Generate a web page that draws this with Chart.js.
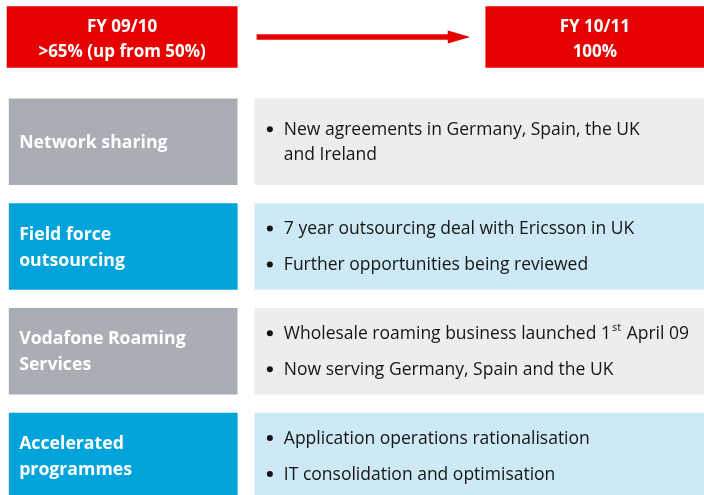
<!DOCTYPE html>
<html>
<head>
<meta charset="utf-8">
<script src="https://cdn.jsdelivr.net/npm/chart.js@4.4.0/dist/chart.umd.min.js"></script>
<style>
  html, body { margin: 0; padding: 0; background: #fff; }
  #wrap { width: 704px; height: 495px; }
</style>
</head>
<body>
<div id="wrap"><canvas id="c"></canvas></div>
<script>
// rows of the diagram (top row = the FY targets)
const rows = ['FY', 'Network sharing', 'Field force outsourcing', 'Vodafone Roaming Services', 'Accelerated programmes'];
const rowLabels = [null, ['Network sharing'], ['Field force', 'outsourcing'], ['Vodafone Roaming', 'Services'], ['Accelerated', 'programmes']];
const rowBullets = [
  null,
  [['New agreements in Germany, Spain, the UK', 'and Ireland']],
  [['7 year outsourcing deal with Ericsson in UK'], ['Further opportunities being reviewed']],
  [['Wholesale roaming business launched 1^st April 09'], ['Now serving Germany, Spain and the UK']],
  [['Application operations rationalisation'], ['IT consolidation and optimisation']]
];
const topTexts = [['FY 09/10', '>65% (up from 50%)'], ['FY 10/11', '100%']];

// spans on a 0-100 horizontal scale
const fromBox = [1.0, 33.7];
const toBox = [69.0, 100];
const arrowSpan = [36.5, 63.6];
const arrowTip = 66.8;
const labelCol = [1.3, 33.7];
const detailCol = [36.2, 100];

const red = '#e60000';
const labelColours = ['#a9aeb4', '#00a4da', '#a9aeb4', '#00a4da'];
const detailColours = ['#ecedef', '#cce9f5', '#ecedef', '#cce9f5'];

const FONT = '"Open Sans", sans-serif';

function onlyTop(v) { return rows.map((r, i) => i === 0 ? v : null); }
function rowsOnly(v) { return rows.map((r, i) => i === 0 ? null : v); }

const textPlugin = {
  id: 'texts',
  afterDatasetsDraw(chart) {
    const ctx = chart.ctx;
    ctx.save();
    // arrow head
    const shaft = chart.getDatasetMeta(2).data[0];
    const tipX = chart.scales.x.getPixelForValue(arrowTip);
    ctx.fillStyle = red;
    ctx.beginPath();
    ctx.moveTo(shaft.x, shaft.y - 6.5);
    ctx.lineTo(tipX, shaft.y);
    ctx.lineTo(shaft.x, shaft.y + 6.5);
    ctx.closePath();
    ctx.fill();

    // top box texts
    ctx.fillStyle = '#fff';
    ctx.textAlign = 'center';
    ctx.textBaseline = 'middle';
    ctx.font = 'bold 17px ' + FONT;
    [0, 1].forEach(d => {
      const el = chart.getDatasetMeta(d).data[0];
      const cx = (el.x + el.base) / 2;
      topTexts[d].forEach((t, k) => ctx.fillText(t, cx, el.y + 3 + (k - 0.5) * 25));
    });

    // row labels and bullets
    for (let i = 1; i < rows.length; i++) {
      const lab = chart.getDatasetMeta(3).data[i];
      const det = chart.getDatasetMeta(4).data[i];
      const cy = lab.y;
      ctx.textAlign = 'left';
      ctx.fillStyle = '#fff';
      ctx.font = 'bold 17.7px ' + FONT;
      const ls = rowLabels[i];
      ls.forEach((t, k) => ctx.fillText(t, Math.min(lab.x, lab.base) + 10, cy + 1 + (k - (ls.length - 1) / 2) * 26));

      const items = rowBullets[i];
      const nLines = items.reduce((s, it) => s + it.length, 0);
      const h = (nLines - items.length) * 25 + (items.length - 1) * 36;
      let y = cy + 1 - h / 2;
      const bx = Math.min(det.x, det.base);
      ctx.fillStyle = '#151515';
      items.forEach(it => {
        ctx.beginPath();
        ctx.arc(bx + 15, y - 1, 3, 0, Math.PI * 2);
        ctx.fill();
        it.forEach((line, k) => {
          let x = bx + 29;
          line.split(/\^(\w+)/).forEach((part, p) => {
            if (p % 2) {
              ctx.font = '11px ' + FONT;
              ctx.fillText(part, x + 1, y - 6);
              x += ctx.measureText(part).width + 2;
            } else {
              ctx.font = '17.5px ' + FONT;
              ctx.fillText(part, x, y);
              x += ctx.measureText(part).width;
            }
          });
          y += (k < it.length - 1) ? 25 : 36;
        });
      });
    }
    ctx.restore();
  }
};

new Chart(document.getElementById('c'), {
  type: 'bar',
  data: {
    labels: rows,
    datasets: [
      { data: onlyTop(fromBox), backgroundColor: red, barThickness: 61 },
      { data: onlyTop(toBox), backgroundColor: red, barThickness: 61 },
      { data: onlyTop(arrowSpan), backgroundColor: red, barThickness: 5 },
      { data: rowsOnly(labelCol), backgroundColor: [null].concat(labelColours), barThickness: 86 },
      { data: rowsOnly(detailCol), backgroundColor: [null].concat(detailColours), barThickness: 86 }
    ]
  },
  options: {
    indexAxis: 'y',
    responsive: true,
    maintainAspectRatio: false,
    animation: false,
    layout: { padding: { top: 37, bottom: 39, left: 0, right: 0 } },
    datasets: { bar: { grouped: false, clip: false, borderWidth: 0 } },
    plugins: { legend: { display: false }, tooltip: { enabled: false } },
    scales: {
      x: { type: 'linear', min: 0, max: 100, display: false },
      y: { type: 'category', offset: false, display: false }
    }
  },
  plugins: [textPlugin]
});
</script>
</body>
</html>
